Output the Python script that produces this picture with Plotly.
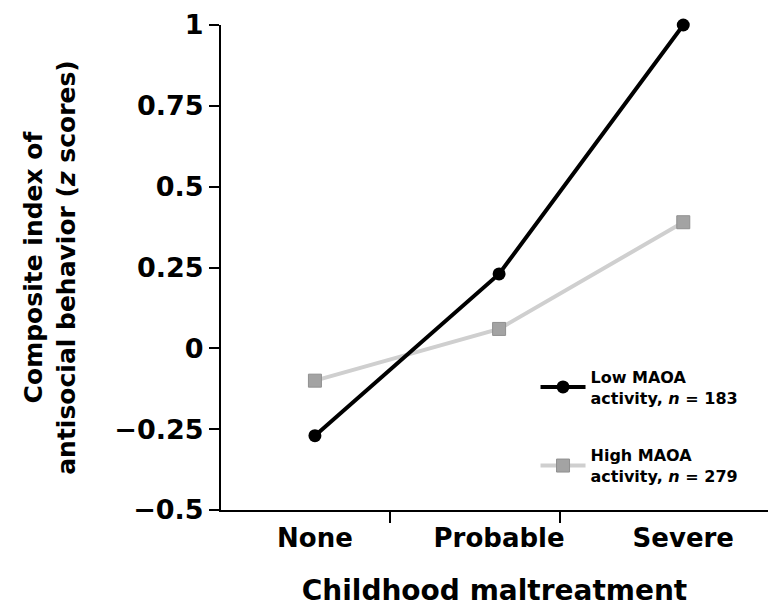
import plotly.graph_objects as go

categories = ["None", "Probable", "Severe"]
low_maoa = [-0.27, 0.23, 1.0]
high_maoa = [-0.10, 0.06, 0.39]
y_ticks = [1, 0.75, 0.5, 0.25, 0, -0.25, -0.5]
y_tick_labels = ["1", "0.75", "0.5", "0.25", "0", "\u22120.25", "\u22120.5"]
x_pos = [0, 1, 2]
x_divider_ticks = [0.41, 1.33]

FONT = "DejaVu Sans, Verdana, sans-serif"

fig = go.Figure()
fig.add_trace(go.Scatter(
    x=x_pos, y=high_maoa, mode="lines+markers",
    name="High MAOA<br>activity, <i>n</i> = 279", legendgroup="high", legendrank=2,
    line=dict(color="#cfcfcf", width=4),
    marker=dict(symbol="square", size=13, color="#a3a3a3", line=dict(color="#909090", width=1)),
    cliponaxis=False,
))
fig.add_trace(go.Scatter(
    x=x_pos, y=low_maoa, mode="lines+markers",
    name="Low MAOA<br>activity, <i>n</i> = 183", legendgroup="low", legendrank=1,
    line=dict(color="#000000", width=4),
    marker=dict(symbol="circle", size=13, color="#000000"),
    cliponaxis=False,
))
# invisible trace to drive divider tick marks on overlay axis
fig.add_trace(go.Scatter(x=[-0.51, 2.46], y=[None, None], xaxis="x2", showlegend=False, hoverinfo="skip"))

fig.update_layout(
    width=768, height=615,
    margin=dict(l=221, r=0, t=25, b=105),
    plot_bgcolor="white", paper_bgcolor="white",
    font=dict(family=FONT, color="black", weight="bold"),
    showlegend=True,
    legend=dict(
        x=0.575, y=0.31, xanchor="left", yanchor="top",
        traceorder="grouped",
        font=dict(size=16, family=FONT, weight="bold"),
        bgcolor="rgba(0,0,0,0)",
        tracegroupgap=34,
        itemwidth=45,
    ),
    xaxis=dict(
        range=[-0.51, 2.46], tickvals=x_pos, ticktext=categories,
        ticks="", showgrid=False, zeroline=False,
        showline=True, linecolor="black", linewidth=2,
        tickfont=dict(size=26, family=FONT, weight="bold"),
        ticklabelstandoff=4,
        title=dict(text="Childhood maltreatment", font=dict(size=28, family=FONT, weight="bold"), standoff=28),
    ),
    xaxis2=dict(
        range=[-0.51, 2.46], overlaying="x", side="bottom",
        tickvals=x_divider_ticks, ticktext=["", ""],
        ticks="outside", ticklen=12, tickwidth=2, tickcolor="black",
        showgrid=False, zeroline=False, showline=False,
    ),
    yaxis=dict(
        range=[-0.5, 1.0], tickvals=y_ticks, ticktext=y_tick_labels,
        ticks="outside", ticklen=10, tickwidth=2, tickcolor="black",
        showgrid=False, zeroline=False,
        showline=True, linecolor="black", linewidth=2,
        tickfont=dict(size=27, family=FONT, weight="bold"),
        title=dict(text="Composite index of<br>antisocial behavior (<i>z</i> scores)",
                   font=dict(size=25, family=FONT, weight="bold"), standoff=32),
    ),
)

fig.write_html("out.html")
